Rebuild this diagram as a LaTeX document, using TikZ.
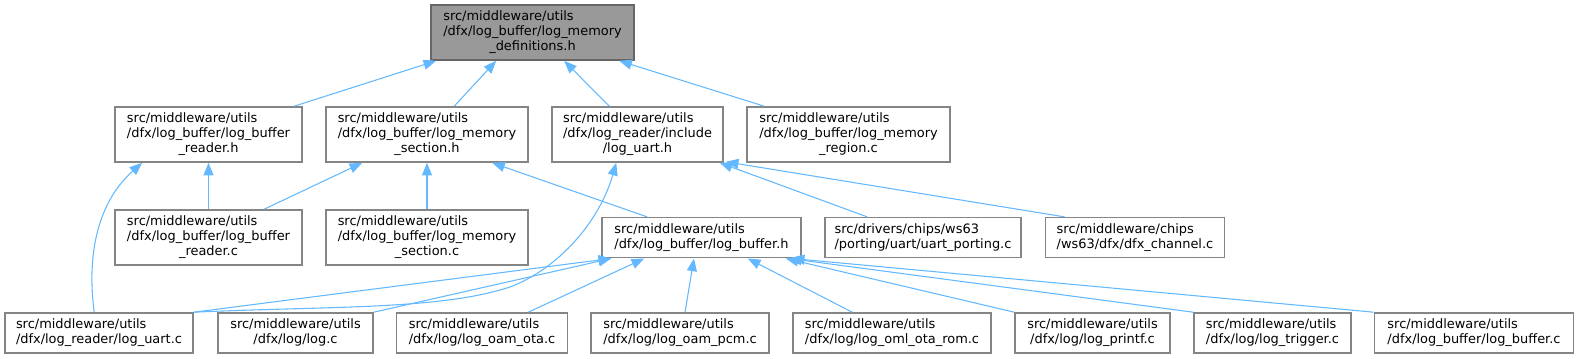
\documentclass[tikz,border=0pt]{standalone}
\usepackage{fontspec}
\setmainfont{DejaVu Sans}
\usepackage{tikz}
\usetikzlibrary{arrows.meta,calc}
\definecolor{cEdge}{HTML}{63B8FF}
\definecolor{cLine}{HTML}{858585}
\definecolor{cRoot}{HTML}{999999}
\definecolor{cRootLine}{HTML}{666666}
% file label: left-aligned lines, last line centred
\newcommand{\fname}[2]{\begin{tabular}{@{}l@{}}#1\\\multicolumn{1}{@{}c@{}}{#2}\end{tabular}}

\begin{document}
\begin{tikzpicture}[
  x=0.75pt, y=-0.75pt,
  font=\fontsize{9.7}{11.25}\selectfont,
  >={Triangle[length=9.5pt,width=7.5pt]},
  b/.style={draw=cLine, fill=white, line width=1.2pt, inner sep=0pt, text=black},
  box3/.style={b, minimum height=41.25pt},
  box2/.style={b, minimum height=30pt},
  focus/.style={box3, draw=cRootLine, fill=cRoot},
  inc/.style={->, draw=cEdge, line width=0.8pt}]
\useasboundingbox (0,0) rectangle (1579,359);

% ================= rank 0 =================
\node[focus, minimum width=152.25pt] (root) at (532.5,32.5)
  {\fname{src/middleware/utils\\/dfx/log\_buffer/log\_memory}{\_definitions.h}};

% ================= rank 1 =================
\node[box3, minimum width=140.25pt] (rdrh) at (208.5,134.5)
  {\fname{src/middleware/utils\\/dfx/log\_buffer/log\_buffer}{\_reader.h}};
\node[box3, minimum width=151.5pt] (msech) at (427,134.5)
  {\fname{src/middleware/utils\\/dfx/log\_buffer/log\_memory}{\_section.h}};
\node[box3, minimum width=128.25pt] (uarth) at (637.5,134.5)
  {\fname{src/middleware/utils\\/dfx/log\_reader/include}{/log\_uart.h}};
\node[box3, minimum width=152.25pt] (mregc) at (848.5,134.5)
  {\fname{src/middleware/utils\\/dfx/log\_buffer/log\_memory}{\_region.c}};

% ================= rank 2 =================
\node[box3, minimum width=140.25pt] (rdrc) at (208.5,237.5)
  {\fname{src/middleware/utils\\/dfx/log\_buffer/log\_buffer}{\_reader.c}};
\node[box3, minimum width=151.5pt] (msecc) at (427,237.5)
  {\fname{src/middleware/utils\\/dfx/log\_buffer/log\_memory}{\_section.c}};
\node[box2, minimum width=149.25pt] (bufh) at (701.5,237.7)
  {\fname{src/middleware/utils}{/dfx/log\_buffer/log\_buffer.h}};
\node[box2, minimum width=147pt] (portc) at (923,237.7)
  {\fname{src/drivers/chips/ws63}{/porting/uart/uart\_porting.c}};
\node[box2, minimum width=134.25pt] (chanc) at (1135,237.7)
  {\fname{src/middleware/chips}{/ws63/dfx/dfx\_channel.c}};

% ================= rank 3 =================
\node[box2, minimum width=141pt] (uartc) at (99,333)
  {\fname{src/middleware/utils}{/dfx/log\_reader/log\_uart.c}};
\node[box2, minimum width=116.25pt] (logc) at (295.5,333)
  {\fname{src/middleware/utils}{/dfx/log/log.c}};
\node[box2, minimum width=128.25pt] (otac) at (482,333)
  {\fname{src/middleware/utils}{/dfx/log/log\_oam\_ota.c}};
\node[box2, minimum width=133.5pt] (pcmc) at (680,333)
  {\fname{src/middleware/utils}{/dfx/log/log\_oam\_pcm.c}};
\node[box2, minimum width=148.5pt] (romc) at (892,333)
  {\fname{src/middleware/utils}{/dfx/log/log\_oml\_ota\_rom.c}};
\node[box2, minimum width=116.25pt] (prtc) at (1092.5,333)
  {\fname{src/middleware/utils}{/dfx/log/log\_printf.c}};
\node[box2, minimum width=117.75pt] (trgc) at (1272.5,333)
  {\fname{src/middleware/utils}{/dfx/log/log\_trigger.c}};
\node[box2, minimum width=149.25pt] (bufc) at (1474,333)
  {\fname{src/middleware/utils}{/dfx/log\_buffer/log\_buffer.c}};

% ---- includes of the root header ----
\draw[inc] ($(rdrh.north west)+(180,0)$) -- ($(root.south west)+(6,0)$);
\draw[inc] ($(msech.north west)+(129,0)$) -- ($(root.south west)+(66,0)$);
\draw[inc] ($(uarth.north west)+(58,0)$) -- ($(root.south west)+(134,0)$);
\draw[inc] ($(mregc.north west)+(18,0)$) -- ($(root.south west)+(189,0)$);

% ---- rank 1 headers ----
\draw[inc] (rdrc) -- (rdrh);
\draw[inc] ($(uartc.north west)+(90,0)$) .. controls (86,250) and (100,200) .. ($(rdrh.south west)+(28,0)$);
\draw[inc] ($(rdrc.north west)+(150,0)$) -- ($(msech.south west)+(37,0)$);
\draw[inc] (msecc) -- (msech);
\draw[inc] ($(bufh.north west)+(46,0)$) -- ($(msech.south west)+(167,0)$);
\draw[inc] (uartc.north east) .. controls (330,306) and (440,310) .. (510,287)
  .. controls (560,268) and (600,220) .. ($(uarth.south west)+(65,0)$);
\draw[inc] ($(portc.north west)+(43,0)$) -- ($(uarth.south east)+(-4,0)$);
\draw[inc] ($(chanc.north west)+(20,0)$) -- ($(uarth.south east)+(2,-1)$);

% ---- log_buffer.h ----
\draw[inc] (uartc.north east) -- ($(bufh.south west)+(10,0)$);
\draw[inc] (logc.north east) -- ($(bufh.south west)+(10,0)$);
\draw[inc] ($(otac.north east)+(-40,0)$) -- ($(bufh.south west)+(43,0)$);
\draw[inc] ($(pcmc.north)+(5,0)$) -- ($(bufh.south)+(-7.5,0)$);
\draw[inc] ($(romc.north west)+(60,0)$) -- ($(bufh.south east)+(-54,0)$);
\draw[inc] (prtc.north west) -- ($(bufh.south east)+(-16,0)$);
\draw[inc] (trgc.north west) -- ($(bufh.south east)+(-13,0)$);
\draw[inc] (bufc.north west) -- ($(bufh.south east)+(-10,0)$);
\end{tikzpicture}
\end{document}
